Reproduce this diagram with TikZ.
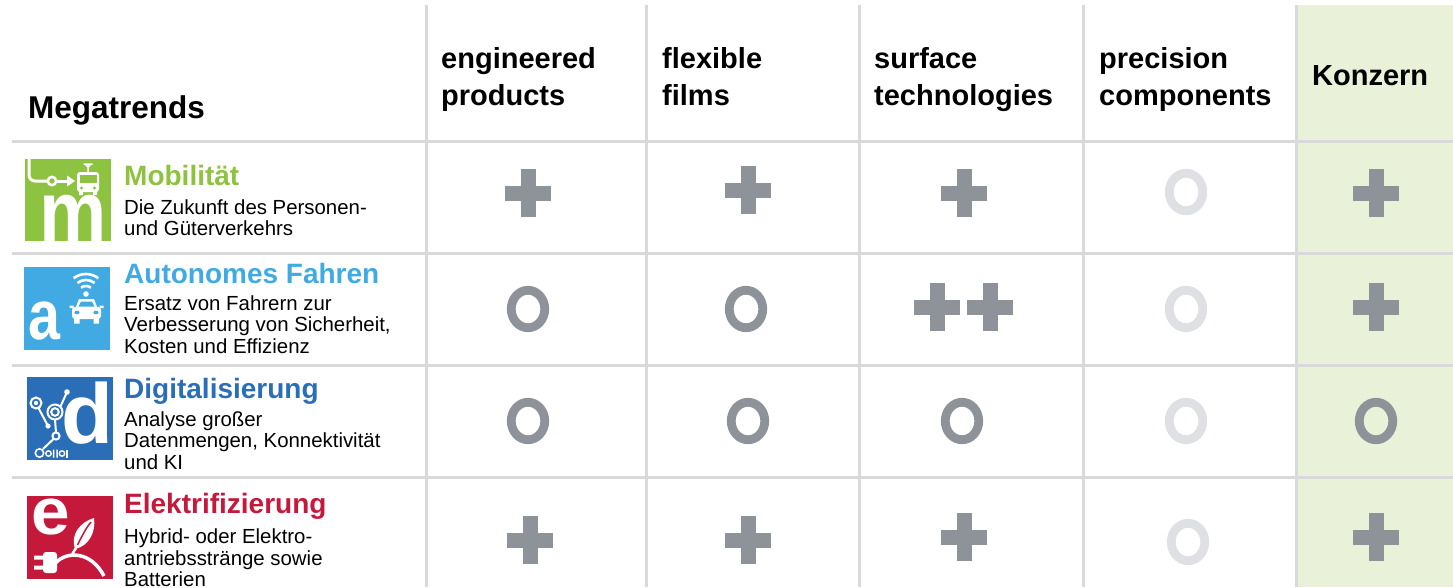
\documentclass[tikz,border=0pt]{standalone}
\usepackage{fontspec}
\usepackage{graphicx}
\setmainfont{Liberation Sans}
\usetikzlibrary{shapes.geometric}
\definecolor{gridgrey}{RGB}{217,217,217}
\definecolor{markgrey}{RGB}{142,146,153}
\definecolor{marklight}{RGB}{223,224,227}
\definecolor{konzernbg}{RGB}{233,242,217}
\definecolor{mobgreen}{RGB}{141,195,64}
\definecolor{autoblue}{RGB}{66,170,226}
\definecolor{digiblue}{RGB}{43,110,184}
\definecolor{elekred}{RGB}{197,25,60}
\newcommand\mytopstrut{\rule{0pt}{1em}}
\begin{document}
\begin{tikzpicture}[x=1pt,y=-1pt,
  gridline/.style={draw=gridgrey, line width=3pt},
  hdr/.style={font=\bfseries\fontsize{29}{37}\selectfont, inner sep=0pt, align=left, anchor=north west},
  hdrone/.style={font=\bfseries\fontsize{29}{37}\selectfont, inner sep=0pt, anchor=base west},
  trendtitle/.style={font=\bfseries\fontsize{28}{32}\selectfont, inner sep=0pt, anchor=base west},
  trendsub/.style={font=\fontsize{20.4}{21.4}\selectfont, inner sep=0pt, align=left, anchor=north west},
  bigletter/.style={text=white, inner sep=0pt, anchor=base},
  plusmark/.style={minimum width=46pt, minimum height=48pt, inner sep=0pt,
    path picture={
      \fill[markgrey] ([xshift=-23pt,yshift=-7.5pt]path picture bounding box.center) rectangle ([xshift=23pt,yshift=7.5pt]path picture bounding box.center);
      \fill[markgrey] ([xshift=-7.5pt,yshift=-24pt]path picture bounding box.center) rectangle ([xshift=7.5pt,yshift=24pt]path picture bounding box.center);
    }},
  ringmark/.style={ellipse, draw=#1, line width=8.8pt, minimum width=33.5pt, minimum height=37.5pt, inner sep=0pt},
  ringmark/.default=markgrey,
  iconline/.style={draw=white, line width=2pt}
]
\useasboundingbox (0,0) rectangle (1453,587);
\clip (0,0) rectangle (1453,587);

% Konzern column background
\fill[konzernbg] (1297,5) rectangle (1453,587);

% grid
\foreach \yy in {141,253,365,477} \draw[gridline] (12,\yy) -- (1453,\yy);
\foreach \xx in {426,646,859,1083,1296} \draw[gridline] (\xx,5) -- (\xx,587);

% header
\node[hdrone] (megatrends) at (28,118) {\fontsize{31.5}{37}\selectfont Megatrends};
\node[hdr] (hep) at (441,39) {\mytopstrut engineered\\products};
\node[hdr] (hff) at (662,39) {\mytopstrut flexible\\films};
\node[hdr] (hst) at (874,39) {\mytopstrut surface\\technologies};
\node[hdr] (hpc) at (1099,39) {\mytopstrut precision\\components};
\node[hdrone] (hkz) at (1312,85) {Konzern};

% row texts
\node[trendtitle, text=mobgreen] (t1) at (124,185.5) {Mobilität};
\node[trendsub] (s1) at (124,193.5) {\mytopstrut Die Zukunft des Personen-\\und Güterverkehrs};
\node[trendtitle, text=autoblue] (t2) at (124,283) {Autonomes Fahren};
\node[trendsub] (s2) at (124,289.6) {\mytopstrut Ersatz von Fahrern zur\\Verbesserung von Sicherheit,\\Kosten und Effizienz};
\node[trendtitle, text=digiblue] (t3) at (124,398.5) {Digitalisierung};
\node[trendsub] (s3) at (124,405.6) {\mytopstrut Analyse großer\\Datenmengen, Konnektivität\\und KI};
\node[trendtitle, text=elekred] (t4) at (124,513.5) {Elektrifizierung};
\node[trendsub] (s4) at (124,523) {\mytopstrut Hybrid- oder Elektro-\\antriebsstränge sowie\\Batterien};

% icon: Mobilitaet
\begin{scope}[shift={(25,159)}]
  \fill[mobgreen] (0,0) rectangle (86,82);
  \node[bigletter, font=\bfseries\fontsize{86}{86}\selectfont] (iconm) at (48,82) {\scalebox{0.88}[1]{m}};
  \draw[white, line width=3pt, rounded corners=6pt] (4,0) -- (4,22) -- (22.5,22);
  \draw[white, line width=2.5pt] (27,22) circle[radius=4.2];
  \draw[white, line width=3pt] (31.5,22) -- (43,22);
  \fill[white] (42,16.5) -- (50,22) -- (42,27.5) -- cycle;
  \fill[white, rounded corners=3pt] (52,13) rectangle (74,33);
  \fill[mobgreen] (54.5,16) rectangle (71.5,24);
  \fill[mobgreen] (56.5,29) circle[radius=1.6] (69.5,29) circle[radius=1.6];
  \fill[white] (54,32) rectangle (58,36) (68,32) rectangle (72,36);
  \draw[white, line width=1.5pt] (63,13) -- (63,7) (58.5,5) -- (67.5,5) (60,5) -- (63,8) -- (66,5);
\end{scope}

% icon: Autonomes Fahren
\begin{scope}[shift={(24,267)}]
  \fill[autoblue] (0,0) rectangle (86,83);
  \node[bigletter, font=\bfseries\fontsize{70}{70}\selectfont] (icona) at (20,72) {\scalebox{0.82}[1]{a}};
  \fill[white] (62,27) circle[radius=2.8];
  \draw[white, line width=2.6pt] (62,27) ++(232:8) arc[start angle=232, end angle=308, radius=8];
  \draw[white, line width=2.6pt] (62,27) ++(232:14) arc[start angle=232, end angle=308, radius=14];
  \draw[white, line width=2.6pt] (62,27) ++(232:20) arc[start angle=232, end angle=308, radius=20];
  \fill[white, rounded corners=3pt] (48,40) rectangle (77,52);
  \fill[white] (51.5,41) -- (55,32) -- (70,32) -- (73.5,41) -- cycle;
  \fill[autoblue] (54.5,39.5) -- (57,34.5) -- (68,34.5) -- (70.5,39.5) -- cycle;
  \fill[autoblue] (53,45.5) ellipse[x radius=2.6, y radius=1.8] (72,45.5) ellipse[x radius=2.6, y radius=1.8];
  \fill[white] (50,51) rectangle (55.5,56.5) (69.5,51) rectangle (75,56.5);
  \fill[white] (45.5,38.5) rectangle (49.5,41) (75.5,38.5) rectangle (79.5,41);
\end{scope}

% icon: Digitalisierung
\begin{scope}[shift={(27,377)}]
  \fill[digiblue] (0,0) rectangle (86,83);
  \node[bigletter, font=\bfseries\fontsize{85}{85}\selectfont] (icond) at (60,66) {d};
  \draw[iconline] (9,26) circle[radius=5.5];
  \fill[white] (9,26) circle[radius=2.2];
  \draw[iconline] (28,35) circle[radius=7.5];
  \draw[iconline] (28,35) circle[radius=3.8];
  \fill[white] (40,15) circle[radius=2.8];
  \fill[white] (21,49) circle[radius=2.6];
  \draw[iconline] (29,59) circle[radius=3.6];
  \draw[iconline] (33.5,29.5) -- (40,15);
  \draw[iconline] (11.5,31) -- (21,49);
  \draw[iconline] (28,42.5) -- (29,55.4);
  \draw[iconline] (26.5,62) -- (16,72);
  \draw[white, line width=1.6pt] (12.5,76) circle[radius=4.2];
  \draw[white, line width=1.4pt] (21.5,76.5) circle[radius=2.7];
  \fill[white] (25.8,72.5) rectangle (27.3,80.5) (29.3,72.5) rectangle (30.8,80.5);
  \draw[white, line width=1.4pt] (35,76.5) circle[radius=2.7];
  \fill[white] (39.2,72.5) rectangle (40.7,80.5);
\end{scope}

% icon: Elektrifizierung
\begin{scope}[shift={(27,496)}]
  \fill[elekred] (0,0) rectangle (86,83);
  \node[bigletter, font=\bfseries\fontsize{66}{66}\selectfont] (icone) at (23.5,38) {\scalebox{1.05}[1]{e}};
  \fill[white] (7,59.5) rectangle (17,63.5) (7,69.5) rectangle (17,73.5);
  \fill[white, rounded corners=3pt] (16,56) rectangle (30,77);
  \draw[white, line width=3.5pt] (29,66.5) .. controls (40,55) and (64,55) .. (77,80);
  \draw[white, line width=2.5pt] (45,58.5) -- (49,52);
  \fill[white] (48,53) .. controls (43,39) and (53,26) .. (67,22) .. controls (69,36) and (62,50) .. (48,53) -- cycle;
  \draw[elekred, line width=1.5pt] (50.5,49) .. controls (55,40) and (59,32) .. (64,26);
\end{scope}

% ratings, row 1
\node[plusmark] (r1c1) at (528,193) {};
\node[plusmark] (r1c2) at (748,190) {};
\node[plusmark] (r1c3) at (964,193) {};
\node[ringmark=marklight] (r1c4) at (1186,192) {};
\node[plusmark] (r1c5) at (1376,193) {};
% row 2
\node[ringmark] (r2c1) at (528,309) {};
\node[ringmark] (r2c2) at (746,309) {};
\node[plusmark] (r2c3a) at (937,307) {};
\node[plusmark] (r2c3b) at (990,307) {};
\node[ringmark=marklight] (r2c4) at (1186,309) {};
\node[plusmark] (r2c5) at (1376,307) {};
% row 3
\node[ringmark] (r3c1) at (528,421) {};
\node[ringmark] (r3c2) at (748,421) {};
\node[ringmark] (r3c3) at (962,421) {};
\node[ringmark=marklight] (r3c4) at (1186,421) {};
\node[ringmark] (r3c5) at (1376,421) {};
% row 4
\node[plusmark] (r4c1) at (530,540) {};
\node[plusmark] (r4c2) at (748,540) {};
\node[plusmark] (r4c3) at (964,537) {};
\node[ringmark=marklight] (r4c4) at (1188,542) {};
\node[plusmark] (r4c5) at (1376,537) {};
\end{tikzpicture}
\end{document}
